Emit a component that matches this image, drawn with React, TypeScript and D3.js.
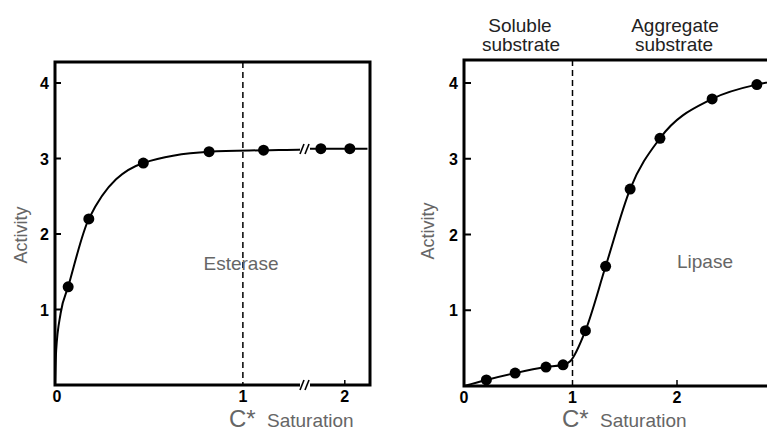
import React from "react";
import * as d3 from "d3";

// Esterase (left panel) measured points
const esteraseX = [0.07, 0.18, 0.47, 0.82, 1.11, 1.81, 2.04];
const esteraseY = [1.3, 2.2, 2.94, 3.09, 3.11, 3.13, 3.13];
// traced curve through the points
const esteraseCurveX = [0, 0.006, 0.03, 0.07, 0.18, 0.47, 0.82, 1.11, 1.32, 1.7, 1.81, 2.04, 2.18];
const esteraseCurveY = [0, 0.45, 0.95, 1.3, 2.2, 2.94, 3.09, 3.11, 3.12, 3.13, 3.13, 3.13, 3.13];

// Lipase (right panel) measured points
const lipaseX = [0.21, 0.48, 0.77, 0.93, 1.14, 1.33, 1.56, 1.84, 2.33, 2.75];
const lipaseY = [0.08, 0.17, 0.25, 0.28, 0.73, 1.58, 2.6, 3.27, 3.79, 3.98];
const lipaseCurveX = [0, 0.21, 0.48, 0.77, 0.93, 1.0, 1.14, 1.33, 1.56, 1.84, 2.33, 2.75, 3.0];
const lipaseCurveY = [0, 0.08, 0.17, 0.25, 0.28, 0.33, 0.73, 1.58, 2.6, 3.27, 3.79, 3.98, 4.04];

const yTicks = [1, 2, 3, 4];
const leftXTicks = [0, 1, 2];
const rightXTicks = [0, 1, 2];
const saturationC = 1;

const tickFont = "'Liberation Sans Narrow', 'Liberation Sans', Arial, sans-serif";
const labelFont = "'Liberation Sans', Arial, Helvetica, sans-serif";
const gray = "#666";

export default function App() {
  // left scales (broken x axis)
  const lx = d3.scaleLinear().domain([0, 1.32, 1.7, 2.2]).range([55, 303, 307, 370]);
  const ly = d3.scaleLinear().domain([0, 4]).range([385, 83]);
  const rx = d3.scaleLinear().domain([0, 2]).range([464, 677]);
  const ry = d3.scaleLinear().domain([0, 4]).range([386, 83]);

  const leftLine = d3
    .line<number>()
    .x((_, i) => lx(esteraseCurveX[i]))
    .y((d) => ly(d))
    .curve(d3.curveMonotoneX);
  const rightLine = d3
    .line<number>()
    .x((_, i) => rx(lipaseCurveX[i]))
    .y((d) => ry(d))
    .curve(d3.curveMonotoneX);

  const lTop = 62, lBot = 385, lLeft = 55, lRight = 370;
  const rTop = 60, rBot = 386, rLeft = 464, rRight = 767;

  const breakX = (lx(1.32) + lx(1.7)) / 2;
  const breakMarks = (cx: number, cy: number) => (
    <g>
      <rect x={cx - 5} y={cy - 6} width={10} height={12} fill="#fff" />
      <line x1={cx - 5} y1={cy + 5} x2={cx - 1} y2={cy - 5} stroke="#000" strokeWidth={1.6} />
      <line x1={cx} y1={cy + 5} x2={cx + 4} y2={cy - 5} stroke="#000" strokeWidth={1.6} />
    </g>
  );

  return (
    <svg width={767} height={431} style={{ position: "absolute", left: 0, top: 0, background: "#fff" }}>
      <rect x={0} y={0} width={767} height={431} fill="#fff" />
      {/* LEFT PANEL */}
      <path d={leftLine(esteraseCurveY) || ""} fill="none" stroke="#000" strokeWidth={2} />
      <line x1={lx(saturationC)} x2={lx(saturationC)} y1={lTop} y2={lBot} stroke="#000" strokeWidth={1.5} strokeDasharray="6,4" />
      {breakMarks(breakX, ly(3.125))}
      {esteraseX.map((x, i) => (
        <circle key={i} cx={lx(x)} cy={ly(esteraseY[i])} r={5.5} fill="#000" />
      ))}
      <rect x={lLeft} y={lTop} width={lRight - lLeft} height={lBot - lTop} fill="none" stroke="#000" strokeWidth={3} />
      {breakMarks(breakX, lBot)}
      {yTicks.map((t) => (
        <g key={t}>
          <line x1={lLeft} x2={lLeft + 6} y1={ly(t)} y2={ly(t)} stroke="#000" strokeWidth={2} />
          <text x={lLeft - 6} y={ly(t) + 6} textAnchor="end" fontFamily={tickFont} fontWeight="bold" fontSize={16}>
            {t}
          </text>
        </g>
      ))}
      {leftXTicks.map((t) => (
        <g key={t}>
          {t === 2 && <line x1={lx(t)} x2={lx(t)} y1={lBot} y2={lBot - 5} stroke="#000" strokeWidth={1.5} />}
          <text x={lx(t) + (t === 0 ? 2 : 0)} y={lBot + 17} textAnchor="middle" fontFamily={tickFont} fontWeight="bold" fontSize={16}>
            {t}
          </text>
        </g>
      ))}
      <text x={27} y={235} transform="rotate(-90 27 235)" textAnchor="middle" fontFamily={labelFont} fontSize={18} fill={gray}>
        Activity
      </text>
      <text x={241} y={270} textAnchor="middle" fontFamily={labelFont} fontSize={19} fill={gray}>
        Esterase
      </text>
      <text x={229} y={427} fontFamily={labelFont} fontSize={24} fill={gray}>
        C*
      </text>
      <text x={267} y={427} fontFamily={labelFont} fontSize={19} fill={gray}>
        Saturation
      </text>

      {/* RIGHT PANEL */}
      <path d={rightLine(lipaseCurveY) || ""} fill="none" stroke="#000" strokeWidth={2} />
      <line x1={rx(saturationC) + 2} x2={rx(saturationC) + 2} y1={rTop} y2={rBot} stroke="#000" strokeWidth={1.5} strokeDasharray="6,4" />
      {lipaseX.map((x, i) => (
        <circle key={i} cx={rx(x)} cy={ry(lipaseY[i])} r={5.5} fill="#000" />
      ))}
      <path d={`M${rRight + 5},${rTop} H${rLeft} V${rBot} H${rRight + 5}`} fill="none" stroke="#000" strokeWidth={3} />
      {yTicks.map((t) => (
        <g key={t}>
          <line x1={rLeft} x2={rLeft + 7} y1={ry(t)} y2={ry(t)} stroke="#000" strokeWidth={2} />
          <text x={rLeft - 6} y={ry(t) + 6} textAnchor="end" fontFamily={tickFont} fontWeight="bold" fontSize={16}>
            {t}
          </text>
        </g>
      ))}
      {rightXTicks.map((t) => (
        <g key={t}>
          {t === 2 && <line x1={rx(t)} x2={rx(t)} y1={rBot} y2={rBot - 6} stroke="#000" strokeWidth={1.5} />}
          <text x={rx(t) + (t === 1 ? 2 : 0)} y={rBot + 17} textAnchor="middle" fontFamily={tickFont} fontWeight="bold" fontSize={16}>
            {t}
          </text>
        </g>
      ))}
      <text x={434} y={231} transform="rotate(-90 434 231)" textAnchor="middle" fontFamily={labelFont} fontSize={18} fill={gray}>
        Activity
      </text>
      <text x={705} y={268} textAnchor="middle" fontFamily={labelFont} fontSize={19} fill={gray}>
        Lipase
      </text>
      <text x={562} y={427} fontFamily={labelFont} fontSize={24} fill={gray}>
        C*
      </text>
      <text x={600} y={427} fontFamily={labelFont} fontSize={19} fill={gray}>
        Saturation
      </text>
      <text textAnchor="middle" fontFamily={labelFont} fontSize={19} fill="#222">
        <tspan x={520} y={32}>Soluble</tspan>
        <tspan x={521} y={51}>substrate</tspan>
      </text>
      <text textAnchor="middle" fontFamily={labelFont} fontSize={19} fill="#222">
        <tspan x={675} y={32}>Aggregate</tspan>
        <tspan x={674} y={51}>substrate</tspan>
      </text>
    </svg>
  );
}
